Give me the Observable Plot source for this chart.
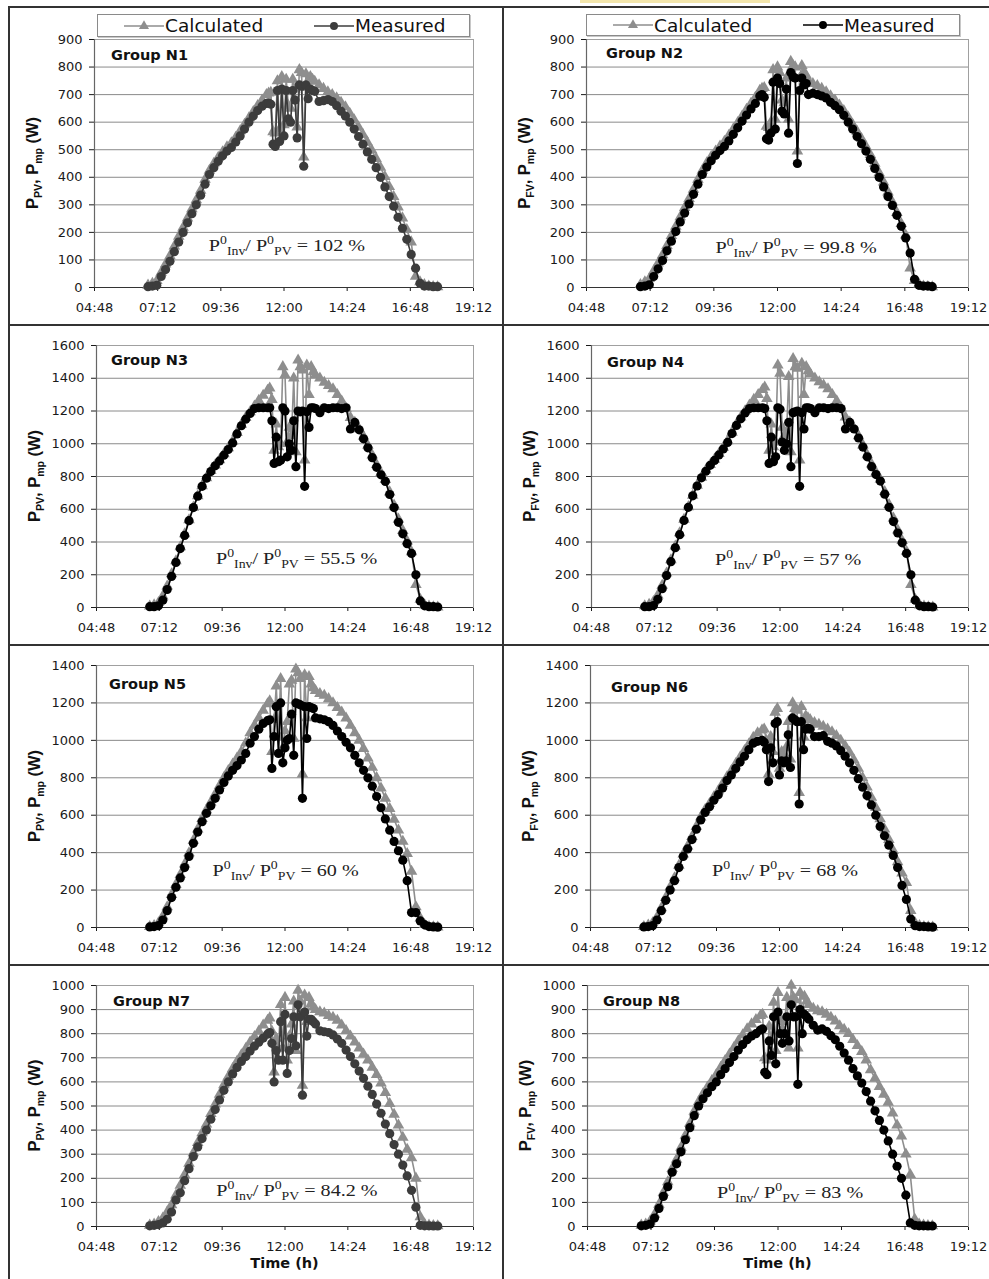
<!DOCTYPE html>
<html><head><meta charset="utf-8">
<script src="https://cdn.jsdelivr.net/npm/d3@7"></script>
<script src="https://cdn.jsdelivr.net/npm/@observablehq/plot@0.6"></script>
<style>
body{margin:0;background:#fff;}
#page{position:relative;width:989px;height:1279px;overflow:hidden;background:#fff;}
.cell{position:absolute;}
.cell svg{overflow:visible;}
.bar{position:absolute;background:#333;}
.legend{position:absolute;border:1px solid #8a8a8a;background:#fff;box-shadow:1px 1px 0 #c8c8c8;font-family:"DejaVu Sans";font-size:18.5px;color:#111;box-sizing:border-box;}
.legend .it{position:absolute;top:0;height:100%;display:flex;align-items:center;white-space:nowrap;}
.legend svg{display:block;margin-right:1px;}
</style></head>
<body><div id="page"></div>
<script>
// ---------------- data ----------------
const times = [
 "06:50","07:00","07:10","07:20","07:30","07:40","07:50","08:00","08:10","08:20","08:30","08:40","08:50","09:00","09:10","09:20","09:30","09:40","09:50","10:00","10:10","10:20","10:30","10:40","10:50","11:00","11:10",
 "11:20","11:25","11:30","11:35","11:40","11:45","11:50","11:55","12:00","12:05","12:10","12:15","12:20","12:25","12:30","12:35","12:40","12:45","12:50","12:55","13:00","13:05",
 "13:10","13:20","13:30","13:40","13:50","14:00","14:10","14:20","14:30","14:40","14:50","15:00","15:10","15:20","15:30","15:40","15:50","16:00","16:10","16:20","16:30","16:40","16:50","17:00","17:10","17:20","17:30","17:40","17:50"];
const xTickLabels = ["04:48","07:12","09:36","12:00","14:24","16:48","19:12"];
const seriesNames = ["Calculated","Measured"];
const groupNames = ["Group N1","Group N2","Group N3","Group N4","Group N5","Group N6","Group N7","Group N8"];
const ratios = ["102 %","99.8 %","55.5 %","57 %","60 %","68 %","84.2 %","83 %"];
const yTicks900 = [0,100,200,300,400,500,600,700,800,900];
const yTicks1600 = [0,200,400,600,800,1000,1200,1400,1600];
const yTicks1400 = [0,200,400,600,800,1000,1200,1400];
const yTicks1000 = [0,100,200,300,400,500,600,700,800,900,1000];

const n1Calc = [8,15,25,55,85,115,150,185,218,252,285,318,352,392,425,450,472,492,510,525,545,568,592,615,638,660,680,
 700,705,708,565,560,750,575,765,590,755,660,650,755,720,582,790,780,473,775,725,765,755,
 748,735,722,710,700,688,672,655,632,608,582,555,527,498,468,436,402,366,330,292,252,210,165,40,20,10,5,3,2];
const n1Meas = [3,5,8,40,65,95,130,165,200,235,268,300,335,375,410,435,458,478,495,508,528,550,575,600,622,642,658,
 668,670,665,520,512,715,530,720,550,715,612,600,715,680,543,735,730,440,735,685,720,715,
 712,675,678,682,675,660,640,622,600,575,548,520,492,465,435,400,365,330,295,255,215,175,120,70,15,5,5,3,3];
const n2Calc = [10,20,32,60,88,118,152,188,222,256,290,322,356,392,425,452,475,495,513,530,552,575,598,622,646,668,690,
 715,722,725,585,580,600,790,610,800,780,680,670,760,610,820,805,800,495,760,805,780,770,
 750,740,732,722,710,695,680,662,642,618,592,566,540,512,482,450,416,382,346,310,272,232,190,70,25,12,5,3,2];
const n2Meas = [3,5,10,40,68,98,133,168,203,238,270,303,338,375,410,437,460,480,497,512,532,556,580,604,626,648,668,
 695,700,690,540,535,560,745,575,760,740,640,630,720,560,780,765,760,450,715,760,735,740,
 700,705,700,695,688,672,660,645,625,600,575,548,522,495,465,432,400,365,330,298,262,222,180,125,30,8,5,5,3];
const n3Calc = [8,15,30,70,130,205,285,370,450,535,612,682,742,792,835,870,902,938,975,1015,1068,1118,1160,1195,1230,1265,1295,
 1325,1340,1270,960,1120,980,1000,1470,1420,1010,1100,1050,1400,950,1510,1470,1450,900,1480,1300,1470,1440,
 1420,1400,1375,1355,1335,1300,1260,1215,1160,1130,1090,1045,990,930,872,822,780,705,625,540,470,405,340,140,50,15,8,3,2];
const n3Meas = [5,5,10,45,110,190,275,360,440,530,610,680,740,790,830,865,895,930,965,1005,1060,1110,1150,1185,1215,1220,1220,
 1220,1220,1140,880,1040,890,900,1220,1200,920,1000,960,1140,860,1200,1195,1200,740,1195,1100,1220,1220,
 1215,1190,1220,1215,1220,1220,1215,1220,1090,1130,1085,1030,975,915,856,810,770,690,610,520,450,390,330,200,40,10,5,5,3];
const n4Calc = [10,18,35,75,135,210,290,375,455,538,615,685,745,795,838,872,905,940,978,1018,1070,1120,1162,1200,1235,1270,1300,
 1330,1345,1275,960,1120,980,1010,1480,1430,1100,1050,1060,1410,950,1520,1470,1460,900,1490,1300,1470,1445,
 1425,1400,1378,1358,1335,1300,1262,1218,1162,1132,1092,1048,992,932,875,825,782,708,628,545,472,408,342,140,50,15,8,3,2];
const n4Meas = [5,5,12,50,115,195,280,365,445,532,612,682,742,792,832,868,898,932,968,1008,1062,1112,1152,1188,1215,1220,1220,
 1220,1215,1140,880,1040,890,920,1220,1210,1010,960,1000,1130,860,1190,1195,1200,740,1190,1090,1220,1220,
 1215,1190,1220,1220,1215,1220,1220,1215,1090,1130,1090,1035,980,920,860,812,772,692,612,525,455,395,330,200,45,10,5,5,3];
const n5Calc = [5,10,25,60,110,175,230,282,338,398,465,525,582,628,670,712,758,800,838,872,905,940,985,1040,1080,1120,1160,
 1195,1210,940,1110,1290,1020,1330,960,1050,1100,1300,1320,1010,1380,1360,1330,820,1350,1120,1340,1300,1280,
 1265,1250,1240,1222,1200,1175,1150,1118,1080,1040,1000,955,905,855,800,745,690,635,578,520,460,395,300,110,50,15,5,3,2];
const n5Meas = [3,5,10,40,90,160,215,265,320,380,450,510,565,610,650,690,735,775,810,840,865,895,930,985,1020,1060,1090,
 1105,1110,850,1020,1180,930,1200,880,960,1000,1010,1140,920,1200,1195,1190,690,1180,1010,1180,1175,1170,
 1120,1115,1110,1100,1080,1050,1020,990,960,920,880,840,800,755,700,640,580,520,460,410,360,250,80,80,35,15,5,3,2];
const n6Calc = [5,12,25,55,105,160,215,265,332,392,435,485,540,590,630,662,698,730,768,805,838,875,910,945,980,1015,1040,
 1055,1060,1000,820,1020,940,1150,1170,850,940,930,960,1100,900,1200,1170,1160,720,1180,1020,1130,1120,
 1110,1095,1085,1075,1060,1045,1025,1000,970,935,895,850,800,750,695,640,580,525,470,410,350,290,240,90,25,10,5,3,2];
const n6Meas = [3,5,10,40,90,145,200,250,320,380,420,470,525,575,615,645,680,710,745,785,815,850,885,915,950,985,995,
 1000,990,950,780,960,880,1090,1100,815,890,880,890,1030,855,1120,1110,1100,660,1100,950,1060,1065,
 1060,1020,1020,1025,995,985,970,945,915,880,840,795,750,705,655,600,540,490,440,385,320,225,150,45,10,5,5,3,2];
const n7Calc = [5,10,20,35,60,90,130,170,215,262,305,348,388,425,468,508,548,588,622,655,685,712,738,765,788,810,835,
 855,865,810,640,780,740,920,740,950,690,790,840,935,730,980,935,585,960,850,950,925,910,
 900,890,885,875,868,855,835,812,790,765,740,715,690,660,630,595,555,510,465,420,370,320,285,200,40,10,5,3,2];
const n7Meas = [3,5,8,15,30,60,110,140,190,240,290,330,365,400,445,485,525,565,600,633,660,685,705,728,748,765,782,
 798,805,760,600,730,690,850,690,880,635,730,780,870,750,920,870,545,890,790,860,860,850,
 840,812,808,805,795,778,760,732,705,675,645,615,582,548,508,470,425,385,340,300,255,210,150,80,5,3,3,2,2];
const n8Calc = [5,10,22,50,92,140,185,240,278,328,378,428,478,518,550,578,605,630,660,688,715,742,770,795,820,840,858,
 875,880,700,690,830,770,930,730,970,860,820,850,950,740,1000,950,940,740,970,880,955,935,
 920,905,895,890,880,868,852,832,818,800,775,750,725,690,650,615,580,548,515,470,420,375,300,215,30,10,5,3,2];
const n8Meas = [3,5,10,35,75,125,165,225,260,310,360,410,460,500,530,555,580,600,630,655,680,705,732,755,775,790,800,
 815,820,640,630,770,710,870,675,890,800,760,800,870,770,920,870,870,590,900,800,880,870,
 860,835,815,820,810,792,775,748,720,690,655,625,595,560,520,480,440,400,355,300,250,200,130,15,5,3,3,2,2];

// ---------------- layout / style ----------------
const CALC = "#8e8e8e";
const DARK = "#3c3c3c";
const toHours = s => { const [h, m] = s.split(":").map(Number); return h + m / 60; };
const fmt = h => { const m = Math.round(h * 60); return String(Math.floor(m / 60)).padStart(2, "0") + ":" + String(m % 60).padStart(2, "0"); };
const xTicks = xTickLabels.map(toHours);
const hours = times.map(toHours);

const panels = [
 {calc:n1Calc, meas:n1Meas, ticks:yTicks900,  pv:"PV", mc:DARK,  box:[10,8,492,316],   m:[31,29,37,84], g:[17,16], note:[0.509,0.831]},
 {calc:n2Calc, meas:n2Meas, ticks:yTicks900,  pv:"FV", mc:"#000",box:[504,8,485,316],  m:[31,21,37,82], g:[20,14], note:[0.55,0.839]},
 {calc:n3Calc, meas:n3Meas, ticks:yTicks1600, pv:"PV", mc:"#000",box:[10,326,492,318], m:[19,29,37,86], g:[15,15], note:[0.532,0.813]},
 {calc:n4Calc, meas:n4Meas, ticks:yTicks1600, pv:"FV", mc:"#000",box:[504,326,485,318],m:[19,21,37,87], g:[16,17], note:[0.523,0.817]},
 {calc:n5Calc, meas:n5Meas, ticks:yTicks1400, pv:"PV", mc:"#000",box:[10,646,492,318], m:[19,29,37,86], g:[13,19], note:[0.503,0.782]},
 {calc:n6Calc, meas:n6Meas, ticks:yTicks1400, pv:"FV", mc:"#000",box:[504,646,485,318],m:[19,21,37,86], g:[21,22], note:[0.516,0.782]},
 {calc:n7Calc, meas:n7Meas, ticks:yTicks1000, pv:"PV", mc:DARK,  box:[10,966,492,313], m:[19,29,53,86], g:[17,16], note:[0.533,0.851], xlab:true},
 {calc:n8Calc, meas:n8Meas, ticks:yTicks1000, pv:"FV", mc:"#000",box:[504,966,485,313],m:[19,21,53,83], g:[16,16], note:[0.533,0.859], xlab:true}
];

const page = document.getElementById("page");
function addDiv(cls, l, t, w, h, css) {
  const d = document.createElement("div");
  d.className = cls;
  Object.assign(d.style, {left: l + "px", top: t + "px", width: w + "px", height: h + "px"}, css || {});
  page.appendChild(d);
  return d;
}

function decorations(p, i) {
  return (index, scales, values, dims) => {
    const {width, height, marginLeft: ml, marginRight: mr, marginTop: mt, marginBottom: mb} = dims;
    const pw = width - ml - mr, ph = height - mt - mb;
    const g = d3.create("svg:g");
    // group label
    g.append("text").attr("x", ml + p.g[0]).attr("y", mt + p.g[1] + 5).attr("text-anchor", "start")
      .style("font-family", "DejaVu Sans").style("font-weight", "bold").style("font-size", "14.5px")
      .attr("fill", "#111").text(groupNames[i]);
    // y title
    const yt = g.append("text")
      .attr("transform", `translate(${ml - 62 + 6},${mt + ph / 2}) rotate(-90)`)
      .attr("text-anchor", "middle").attr("fill", "#111")
      .style("font-family", "Liberation Sans").style("font-weight", "bold").style("font-size", "16.5px");
    yt.append("tspan").text("P");
    yt.append("tspan").attr("dy", 4).style("font-size", "10.5px").text(p.pv);
    yt.append("tspan").attr("dy", -4).text(", P");
    yt.append("tspan").attr("dy", 4).style("font-size", "10.5px").text("mp");
    yt.append("tspan").attr("dy", -4).text(" (W)");
    // ratio note
    const nt = g.append("text")
      .attr("transform", `translate(${ml + p.note[0] * pw},${mt + p.note[1] * ph + 6}) scale(1.15,1)`)
      .attr("text-anchor", "middle").attr("fill", "#222")
      .style("font-family", "Liberation Serif").style("font-size", "17.5px");
    nt.append("tspan").text("P");
    nt.append("tspan").attr("dy", -7).style("font-size", "12px").text("0");
    nt.append("tspan").attr("dy", 11).style("font-size", "12px").text("Inv");
    nt.append("tspan").attr("dy", -4).text("/ P");
    nt.append("tspan").attr("dy", -7).style("font-size", "12px").text("0");
    nt.append("tspan").attr("dy", 11).style("font-size", "12px").text("PV");
    nt.append("tspan").attr("dy", -4).text(" = " + ratios[i]);
    if (p.xlab) {
      g.append("text").attr("x", ml + pw / 2).attr("y", mt + ph + 42).attr("text-anchor", "middle")
        .style("font-family", "DejaVu Sans").style("font-weight", "bold").style("font-size", "14.5px")
        .attr("fill", "#111").text("Time (h)");
    }
    return g.node();
  };
}

panels.forEach((p, i) => {
  const calcRows = hours.map((t, k) => ({t, v: p.calc[k]}));
  const measRows = hours.map((t, k) => ({t, v: p.meas[k]}));
  const [l, t, w, h] = p.box;
  const yMax = p.ticks[p.ticks.length - 1];
  const svg = Plot.plot({
    width: w, height: h,
    marginTop: p.m[0], marginRight: p.m[1], marginBottom: p.m[2], marginLeft: p.m[3],
    style: {fontFamily: "DejaVu Sans", fontSize: "13px", color: "#1a1a1a", background: "transparent", overflow: "visible"},
    x: {domain: [xTicks[0], xTicks[xTicks.length - 1]], ticks: xTicks, tickFormat: fmt, tickSize: 4, tickPadding: 11, label: null},
    y: {domain: [0, yMax], ticks: p.ticks, tickFormat: d => String(d), tickSize: 5, tickPadding: 7, label: null},
    marks: [
      Plot.ruleY(p.ticks, {stroke: "#8a8a8a", strokeWidth: 1}),
      Plot.frame({stroke: "#a0a0a0"}),
      Plot.ruleY([0], {stroke: "#333", strokeWidth: 1.2}),
      Plot.ruleX([xTicks[0]], {stroke: "#666", strokeWidth: 1.2}),
      Plot.line(calcRows, {x: "t", y: "v", stroke: CALC, strokeWidth: 1.6}),
      Plot.dot(calcRows, {x: "t", y: "v", symbol: "triangle", r: 4.3, fill: CALC}),
      Plot.line(measRows, {x: "t", y: "v", stroke: p.mc, strokeWidth: 1.6}),
      Plot.dot(measRows, {x: "t", y: "v", r: 4.6, fill: p.mc}),
      decorations(p, i)
    ]
  });
  const cell = addDiv("cell", l, t, w, h);
  cell.appendChild(svg);
});

// grid borders
addDiv("bar", 8, 6, 981, 2);
addDiv("bar", 8, 6, 2, 1273);
addDiv("bar", 502, 6, 2, 1273);
addDiv("bar", 8, 324, 981, 2);
addDiv("bar", 8, 644, 981, 2);
addDiv("bar", 8, 964, 981, 2);
addDiv("bar", 580, 0, 190, 3, {background: "#f3e6ad"});

// legends
function legend(l, t, w, h, mc) {
  const box = addDiv("legend", l, t, w, h);
  const items = [[26, "triangle", CALC, seriesNames[0]], [216, "circle", mc, seriesNames[1]]];
  items.forEach(([x, sym, col, label]) => {
    const it = document.createElement("div");
    it.className = "it";
    it.style.left = x + "px";
    const s = d3.create("svg").attr("width", 40).attr("height", 14);
    s.append("line").attr("x1", 0).attr("x2", 40).attr("y1", 7).attr("y2", 7).attr("stroke", col).attr("stroke-width", 1.5);
    s.append("path").attr("transform", "translate(20,7)").attr("fill", col)
      .attr("d", d3.symbol(sym === "triangle" ? d3.symbolTriangle : d3.symbolCircle, sym === "triangle" ? 44 : 50)());
    it.appendChild(s.node());
    const sp = document.createElement("span");
    sp.textContent = label;
    it.appendChild(sp);
    box.appendChild(it);
  });
}
legend(97, 14, 373, 23, DARK);
legend(586, 14, 374, 22, "#000");
</script>
</body></html>
